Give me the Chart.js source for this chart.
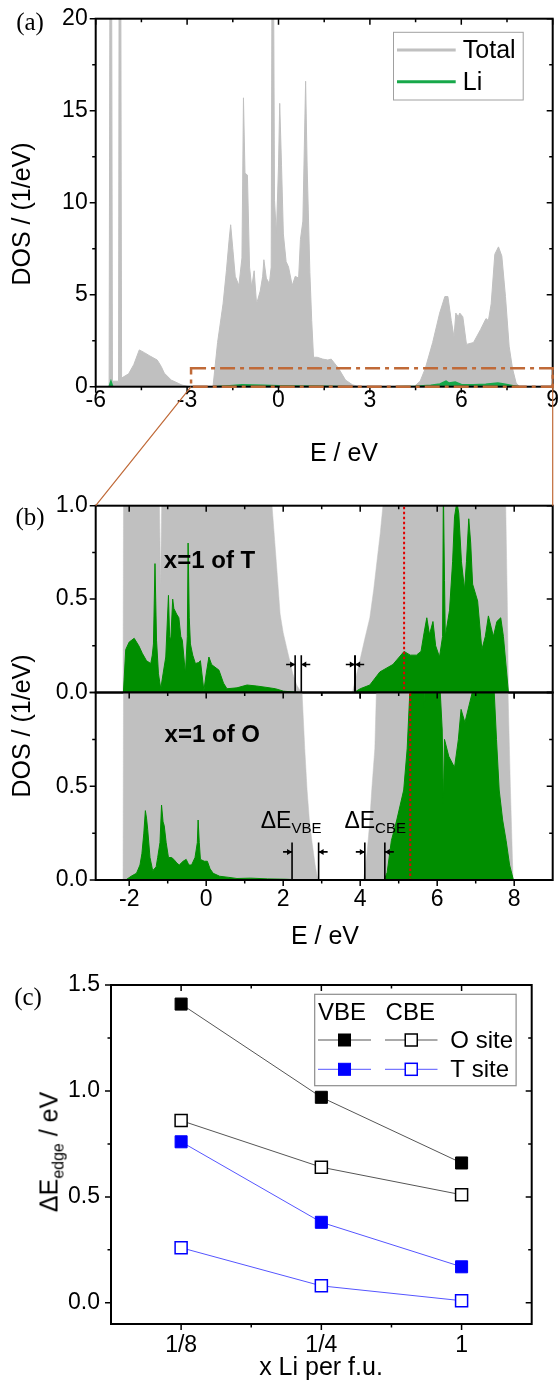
<!DOCTYPE html>
<html>
<head>
<meta charset="utf-8">
<title>Li DOS and band edge shifts</title>
<script src="https://cdn.jsdelivr.net/npm/chart.js@4.4.1/dist/chart.umd.min.js"></script>
<style>
  html, body { margin: 0; padding: 0; background: #fff; overflow: hidden; }
  body { position: relative; width: 558px; height: 1380px; font-family: "Liberation Sans", Arial, sans-serif; color: #000; }
  canvas { position: absolute; left: 0; }
  .txt { position: absolute; white-space: nowrap; line-height: 1; transform: translate(-50%, -50%); }
  .rot { transform: translate(-50%, -50%) rotate(-90deg); }
  .tag { font-family: "Liberation Serif", serif; font-size: 25px; }
  .title { font-size: 25px; }
  .sub { font-size: 16px; position: relative; top: 6px; }
</style>
</head>
<body>
<canvas id="chartA" width="558" height="470" style="top:0"></canvas>
<canvas id="chartB1" width="558" height="225" style="top:480px"></canvas>
<canvas id="chartB2" width="558" height="280" style="top:680px"></canvas>
<canvas id="chartC" width="558" height="420" style="top:960px"></canvas>
<canvas id="zoomLines" width="558" height="1380" style="top:0;pointer-events:none"></canvas>

<div class="txt tag" style="left:30px;top:21px">(a)</div>
<div class="txt tag" style="left:30px;top:516px">(b)</div>
<div class="txt tag" style="left:28px;top:996px">(c)</div>
<div class="txt title rot" style="left:21px;top:214px">DOS / (1/eV)</div>
<div class="txt title" style="left:344px;top:452px">E / eV</div>
<div class="txt title rot" style="left:21px;top:726px">DOS / (1/eV)</div>
<div class="txt title" style="left:325px;top:935px">E / eV</div>
<div class="txt title rot" style="left:49px;top:1152px">ΔE<span class="sub">edge</span> / eV</div>
<div class="txt title" style="left:321px;top:1366px">x Li per f.u.</div>

<script>
// ---------- data ----------
// (a) total DOS and Li projected DOS
const eTotA = [-6.0, -5.56, -5.53, -5.48, -5.45, -5.25, -5.23, -5.18, -5.15, -4.92,
  -4.75, -4.57, -4.40, -4.22, -3.98, -3.85, -3.75, -3.52, -3.17, -2.93,
  -2.15, -2.10, -2.00, -1.82, -1.71, -1.62, -1.57, -1.50, -1.42, -1.30,
  -1.20, -1.15, -1.10, -1.02, -0.95, -0.88, -0.80, -0.72, -0.60, -0.52,
  -0.48, -0.40, -0.30, -0.24, -0.21, -0.17, -0.13, -0.07, 0.00, 0.04,
  0.10, 0.16, 0.25, 0.33, 0.45, 0.55, 0.66, 0.72, 0.80, 0.89,
  0.94, 1.03, 1.09, 1.15, 1.27, 1.45, 1.62, 1.73, 1.97, 2.20,
  2.43, 2.67, 4.45, 4.65, 4.82, 5.06, 5.29, 5.46, 5.56, 5.67,
  5.76, 5.82, 5.90, 5.95, 6.05, 6.17, 6.40, 6.63, 6.81, 6.89,
  6.98, 7.10, 7.22, 7.33, 7.45, 7.57, 7.68, 7.80, 7.92, 9.0];
const dosTotA = [0, 0, 25, 25, 0.3, 0.3, 25, 25, 0.47, 0.7,
  1.2, 2.0, 1.85, 1.67, 1.45, 1.1, 0.74, 0.36, 0.09, 0,
  0, 0.8, 2.4, 4.5, 6.3, 8.0, 8.8, 7.5, 6.0, 5.5,
  7.0, 15.7, 11.6, 11.5, 6.5, 5.4, 6.3, 4.5, 5.2, 6.0,
  6.9, 5.9, 5.6, 6.5, 25, 25, 10.1, 8.3, 12, 15.4,
  12, 8.3, 6.8, 6.5, 5.5, 6.0, 5.9, 8.0, 9.0, 16.6,
  12, 6.2, 3.6, 1.6, 1.6, 1.5, 1.45, 1.5, 1.0, 0.36,
  0.1, 0, 0, 0.3, 1.0, 2.4, 4.0, 4.9, 4.9, 3.6,
  2.7, 4.0, 3.8, 4.0, 3.8, 2.3, 2.4, 3.1, 3.7, 3.6,
  4.5, 7.2, 7.6, 7.1, 4.9, 2.2, 1.0, 0.2, 0, 0];
const eLiA = [-6, -5.56, -5.5, -5.44, -2.15, -1.6, -1.2, -0.5, 0, 0.5,
  1.5, 2.5, 3.8, 4.5, 5.0, 5.3, 5.5, 5.6, 5.8, 6.0,
  6.4, 6.8, 7.2, 7.4, 7.7, 7.9, 9];
const dosLiA = [0, 0, 0.3, 0, 0, 0.05, 0.1, 0.08, 0.05, 0.04,
  0.02, 0, 0, 0.02, 0.08, 0.15, 0.3, 0.2, 0.25, 0.12,
  0.1, 0.14, 0.2, 0.15, 0.05, 0, 0];

// (b) x=1, Li on T site
const eTotT = [-2.87, -2.16, -2.13, -1.8, -1.4, -1.26, -1.22, -1.185, -1.15, -1.1,
  -0.5, 0.5, 1.2, 1.5, 1.71, 1.82, 1.92, 2.0, 2.09, 2.25,
  2.35, 2.44, 2.52, 3.80, 3.85, 3.92, 3.99, 4.1, 4.25, 4.35,
  4.44, 4.52, 4.59, 4.75, 5.5, 7.3, 7.7, 7.78, 7.82, 7.85, 9];
const dosTotT = [0, 0, 2.5, 5, 4, 2, 1.1, 0.58, 1.1, 2,
  6, 6, 3, 1.6, 1.0, 0.7, 0.42, 0.32, 0.24, 0.1,
  0.04, 0.01, 0, 0, 0.05, 0.11, 0.17, 0.27, 0.40, 0.55,
  0.71, 0.85, 1.0, 1.6, 4, 4, 1.6, 1.0, 0.5, 0, 0];
const eLiT = [-2.87, -2.15, -2.09, -2.0, -1.87, -1.75, -1.66, -1.55, -1.44, -1.40,
  -1.37, -1.33, -1.29, -1.24, -1.18, -1.12, -1.05, -0.98, -0.95, -0.92,
  -0.87, -0.84, -0.77, -0.71, -0.66, -0.62, -0.54, -0.49, -0.47, -0.44,
  -0.41, -0.35, -0.28, -0.2, -0.15, -0.06, 0.0, 0.07, 0.14, 0.20,
  0.33, 0.45, 0.54, 0.8, 1.06, 1.3, 1.58, 1.8, 2.01, 2.44,
  3.84, 4.0, 4.25, 4.51, 4.85, 5.14, 5.3, 5.46, 5.58, 5.66,
  5.73, 5.80, 5.89, 5.96, 6.06, 6.14, 6.16, 6.19, 6.21, 6.32,
  6.40, 6.45, 6.51, 6.56, 6.63, 6.71, 6.76, 6.82, 6.87, 6.92,
  7.05, 7.16, 7.25, 7.33, 7.40, 7.46, 7.55, 7.65, 7.72, 7.85, 9];
const dosLiT = [0, 0, 0.23, 0.27, 0.29, 0.25, 0.21, 0.17, 0.155, 0.2,
  0.26, 0.69, 0.28, 0.1, 0.02, 0.1, 0.19, 0.52, 0.3, 0.28,
  0.5, 0.45, 0.42, 0.40, 0.3, 0.28, 0.10, 0.3, 0.80, 0.4,
  0.26, 0.2, 0.155, 0.16, 0.17, 0.01, 0.1, 0.19, 0.15, 0.14,
  0.12, 0.05, 0.02, 0.025, 0.04, 0.035, 0.027, 0.02, 0.007, 0,
  0, 0.02, 0.04, 0.11, 0.15, 0.22, 0.2, 0.2, 0.22, 0.32,
  0.40, 0.31, 0.38, 0.25, 0.19, 0.3, 1.1, 0.6, 0.30, 0.44,
  0.7, 0.94, 1.02, 0.96, 0.7, 0.55, 0.7, 0.93, 0.8, 0.58,
  0.49, 0.23, 0.3, 0.41, 0.35, 0.30, 0.38, 0.40, 0.3, 0, 0];

// (b) x=1, Li on O site
const eTotO = [-2.87, -2.16, -2.13, -1.8, -1.0, 0.5, 1.5, 2.2, 2.38, 2.49,
  2.56, 2.62, 2.68, 2.75, 2.83, 2.9, 4.09, 4.18, 4.24, 4.30,
  4.38, 4.42, 4.6, 5.5, 7.3, 7.7, 7.84, 7.9, 7.97, 9];
const dosTotO = [0, 0, 2.5, 5, 6, 6, 3, 1.8, 1.3, 1.0,
  0.7, 0.48, 0.32, 0.2, 0.08, 0, 0, 0.15, 0.29, 0.48,
  0.7, 1.0, 2, 4, 4, 2, 1.0, 0.5, 0, 0];
const eLiO = [-2.87, -2.09, -1.95, -1.81, -1.72, -1.67, -1.62, -1.58, -1.55, -1.52,
  -1.46, -1.39, -1.3, -1.26, -1.2, -1.16, -1.12, -1.09, -1.04, -0.98,
  -0.9, -0.84, -0.76, -0.70, -0.6, -0.52, -0.45, -0.38, -0.29, -0.23,
  -0.21, -0.18, -0.15, -0.05, 0.03, 0.1, 0.18, 0.35, 0.59, 0.8,
  1.15, 1.6, 2.07, 2.53, 4.62, 4.70, 4.81, 4.95, 5.13, 5.22,
  5.3, 5.5, 5.64, 5.67, 5.70, 5.85, 6.02, 6.08, 6.13, 6.16,
  6.19, 6.3, 6.45, 6.55, 6.62, 6.72, 6.85, 6.97, 7.2, 7.47,
  7.54, 7.61, 7.70, 7.79, 7.88, 7.98, 9];
const dosLiO = [0, 0, 0.02, 0.036, 0.08, 0.14, 0.25, 0.37, 0.33, 0.27,
  0.12, 0.05, 0.07, 0.12, 0.2, 0.40, 0.31, 0.29, 0.2, 0.12,
  0.12, 0.11, 0.09, 0.08, 0.1, 0.11, 0.08, 0.08, 0.12, 0.2,
  0.32, 0.2, 0.11, 0.1, 0.10, 0.06, 0.036, 0.02, 0.014, 0.008,
  0.01, 0.006, 0.004, 0, 0, 0.04, 0.21, 0.32, 0.48, 0.7,
  1.05, 1.3, 1.2, 0.92, 1.2, 1.3, 1.2, 1.0, 0.8, 0.41,
  0.75, 0.66, 0.6, 0.75, 0.91, 0.84, 0.95, 1.05, 1.3, 1.05,
  0.75, 0.48, 0.32, 0.21, 0.08, 0, 0];

// band edges marked in (b), eV
const vbeT = [2.31, 2.47], cbeT = [3.86, 3.87], redLineT = 5.14;
const vbeO = [2.23, 2.92], cbeO = [4.12, 4.64], redLineO = 5.30;

// (c) edge shifts
const liContent = ['1/8', '1/4', '1'];
const vbeOsite = [1.41, 0.97, 0.66];
const cbeOsite = [0.86, 0.64, 0.51];
const vbeTsite = [0.76, 0.38, 0.17];
const cbeTsite = [0.26, 0.08, 0.01];

// ticks
const ticksAx = [-6, -3, 0, 3, 6, 9], minorAx = [-4.5, -1.5, 1.5, 4.5, 7.5];
const ticksAy = [0, 5, 10, 15, 20], minorAy = [2.5, 7.5, 12.5, 17.5];
const ticksBx = [-2, 0, 2, 4, 6, 8], minorBx = [-1, 1, 3, 5, 7];
const ticksBy = [0, 0.5, 1], minorBy = [0.25, 0.75];
const ticksCx = [0, 1, 2], minorCx = [0.5, 1.5];
const ticksCy = [0, 0.5, 1, 1.5], minorCy = [0.25, 0.75, 1.25];

// zoomed window of (a) shown in (b)
const zoomE = [-2.87, 9], zoomDos = [0, 1];

// ---------- styles ----------
const GREY = '#c0c0c0';
const GREEN_A = '#17a84a';
const GREEN_B = '#008e00';
const ORANGE = '#c06a38';
const tickFont = { family: 'Liberation Sans', size: 23 };

const pts = (xs, ys) => xs.map((x, i) => ({ x, y: ys[i] }));

function axis(min, max, ticks, o) {
  return {
    type: 'linear', min, max,
    afterBuildTicks: s => { s.ticks = ticks.map(v => ({ value: v })); },
    afterFit: s => {
      if (o.height !== undefined) { s.height = o.height; s.paddingLeft = 0; s.paddingRight = 0; }
      if (o.width !== undefined) { s.width = o.width; s.paddingTop = 0; s.paddingBottom = 0; }
    },
    grid: { display: false, drawTicks: false },
    border: { display: false },
    ticks: {
      display: o.labels !== false, padding: o.pad || 0, font: tickFont, color: '#000',
      autoSkip: false, maxRotation: 0, callback: o.fmt || (v => String(v))
    }
  };
}

// box with outward ticks on bottom/left, inward on top/right
const framePlugin = {
  id: 'frame',
  afterDraw(chart, args, o) {
    const { ctx, chartArea: a } = chart;
    const sx = chart.scales.x, sy = chart.scales.y;
    ctx.save();
    ctx.strokeStyle = '#000';
    ctx.lineWidth = 2;
    ctx.strokeRect(a.left, a.top, a.right - a.left, a.bottom - a.top);
    ctx.lineWidth = 1.5;
    ctx.beginPath();
    const xt = o.xMajor.map(v => [v, 6]).concat(o.xMinor.map(v => [v, 3.5]));
    xt.forEach(([v, len]) => {
      const p = sx.getPixelForValue(v);
      ctx.moveTo(p, a.bottom); ctx.lineTo(p, a.bottom + len);
      ctx.moveTo(p, a.top); ctx.lineTo(p, a.top + len);
    });
    const yt = o.yMajor.map(v => [v, 6]).concat(o.yMinor.map(v => [v, 3.5]));
    yt.forEach(([v, len]) => {
      const p = sy.getPixelForValue(v);
      ctx.moveTo(a.left, p); ctx.lineTo(a.left - len, p);
      ctx.moveTo(a.right, p); ctx.lineTo(a.right - len, p);
    });
    ctx.stroke();
    ctx.restore();
  }
};

const zoomRectPlugin = {
  id: 'zoomRect',
  afterDraw(chart) {
    const { ctx } = chart;
    const sx = chart.scales.x, sy = chart.scales.y;
    const x0 = sx.getPixelForValue(zoomE[0]), x1 = sx.getPixelForValue(zoomE[1]);
    const y0 = sy.getPixelForValue(zoomDos[0]), y1 = sy.getPixelForValue(zoomDos[1]);
    ctx.save();
    ctx.strokeStyle = ORANGE;
    ctx.lineWidth = 2.5;
    ctx.setLineDash([15, 5, 4, 5]);
    ctx.strokeRect(x0, y1, x1 - x0, y0 - y1);
    ctx.restore();
  }
};

const legendAPlugin = {
  id: 'legendA',
  afterDraw(chart) {
    const { ctx, chartArea: a } = chart;
    const ds = chart.data.datasets;
    const left = a.right - 159.2, top = a.top + 13.6;
    ctx.save();
    ctx.fillStyle = '#fff';
    ctx.fillRect(left, top, 129.7, 67.7);
    ctx.strokeStyle = '#a0a0a0'; ctx.lineWidth = 1;
    ctx.strokeRect(left, top, 129.7, 67.7);
    ctx.font = "25px 'Liberation Sans'";
    ctx.textBaseline = 'middle';
    [[0, 17.7], [1, 49.4]].forEach(([i, dy]) => {
      ctx.strokeStyle = ds[i].borderColor; ctx.lineWidth = 3;
      ctx.beginPath(); ctx.moveTo(left + 3.5, top + dy); ctx.lineTo(left + 62.2, top + dy); ctx.stroke();
      ctx.fillStyle = '#000';
      ctx.fillText(ds[i].label, left + 69.3, top + dy + 1);
    });
    ctx.restore();
  }
};

// edge markers, red dotted line and labels in (b)
const edgePlugin = {
  id: 'edges',
  afterDraw(chart, args, o) {
    const { ctx, chartArea: a } = chart;
    const sx = chart.scales.x, sy = chart.scales.y;
    ctx.save();
    const rx = sx.getPixelForValue(o.red);
    ctx.strokeStyle = '#e00000'; ctx.lineWidth = 2; ctx.setLineDash([2.5, 2.5]);
    ctx.beginPath(); ctx.moveTo(rx, a.top + 1); ctx.lineTo(rx, a.bottom - 1); ctx.stroke();
    ctx.setLineDash([]);
    ctx.strokeStyle = '#000'; ctx.fillStyle = '#000'; ctx.lineWidth = 1.6;
    const yTop = sy.getPixelForValue(0.2), yA = sy.getPixelForValue(0.15);
    [o.vbe, o.cbe].forEach(pair => {
      const p0 = sx.getPixelForValue(pair[0]), p1 = sx.getPixelForValue(pair[1]);
      ctx.beginPath();
      ctx.moveTo(p0, a.bottom); ctx.lineTo(p0, yTop);
      ctx.moveTo(p1, a.bottom); ctx.lineTo(p1, yTop);
      ctx.moveTo(p0 - 9, yA); ctx.lineTo(p0, yA);
      ctx.moveTo(p1, yA); ctx.lineTo(p1 + 9, yA);
      ctx.stroke();
      ctx.beginPath();
      ctx.moveTo(p0, yA); ctx.lineTo(p0 - 5, yA - 3); ctx.lineTo(p0 - 5, yA + 3); ctx.closePath();
      ctx.moveTo(p1, yA); ctx.lineTo(p1 + 5, yA - 3); ctx.lineTo(p1 + 5, yA + 3); ctx.closePath();
      ctx.fill();
    });
    ctx.textBaseline = 'alphabetic';
    ctx.font = "bold 24px 'Liberation Sans'";
    ctx.fillText(o.title, sx.getPixelForValue(o.titleAt[0]), sy.getPixelForValue(o.titleAt[1]));
    (o.deltas || []).forEach(d => {
      const x = sx.getPixelForValue(d.at[0]), y = sy.getPixelForValue(d.at[1]);
      ctx.font = "23px 'Liberation Sans'";
      ctx.fillText('ΔE', x, y);
      const w = ctx.measureText('ΔE').width;
      ctx.font = "15px 'Liberation Sans'";
      ctx.fillText(d.sub, x + w, y + 5);
    });
    ctx.restore();
  }
};

const legendCPlugin = {
  id: 'legendC',
  afterDraw(chart) {
    const { ctx, chartArea: a } = chart;
    const ds = chart.data.datasets;
    const left = a.right - 217, top = a.top + 9.3;
    ctx.save();
    ctx.fillStyle = '#fff';
    ctx.fillRect(left, top, 201.4, 91.4);
    ctx.strokeStyle = '#8c8c8c'; ctx.lineWidth = 1.2;
    ctx.strokeRect(left, top, 201.4, 91.4);
    ctx.fillStyle = '#000';
    ctx.font = "24px 'Liberation Sans'";
    ctx.textBaseline = 'alphabetic';
    ctx.fillText('VBE', left + 3.3, top + 25.7);
    ctx.fillText('CBE', left + 70.9, top + 25.7);
    [[0, 1, 'O site', 45.7], [2, 3, 'T site', 75]].forEach(([iv, ic, text, dy]) => {
      const y = top + dy;
      [[iv, 3.3, 56.3], [ic, 70.3, 122.8]].forEach(([i, x0, x1]) => {
        ctx.strokeStyle = ds[i].borderColor; ctx.lineWidth = 1;
        ctx.beginPath(); ctx.moveTo(left + x0, y); ctx.lineTo(left + x1, y); ctx.stroke();
        const cx = left + (x0 + x1) / 2, s = 6;
        ctx.fillStyle = ds[i].pointBackgroundColor; ctx.fillRect(cx - s, y - s, 2 * s, 2 * s);
        ctx.strokeStyle = ds[i].pointBorderColor; ctx.lineWidth = ds[i].pointBorderWidth;
        ctx.strokeRect(cx - s, y - s, 2 * s, 2 * s);
      });
      ctx.fillStyle = '#000';
      ctx.textBaseline = 'middle';
      ctx.fillText(text, left + 135.6, y + 1);
      ctx.textBaseline = 'alphabetic';
    });
    ctx.restore();
  }
};

const baseOptions = {
  responsive: false,
  animation: false,
  events: [],
  elements: { point: { radius: 0 }, line: { tension: 0 } }
};

function dosSet(label, xs, ys, color, order, width) {
  return { label, data: pts(xs, ys), order, fill: 'origin', backgroundColor: color,
    borderColor: color, borderWidth: width, pointRadius: 0, clip: 0 };
}

// ---------- (a) ----------
const chartA = new Chart(document.getElementById('chartA'), {
  type: 'line',
  data: { datasets: [
    dosSet('Total', eTotA, dosTotA, GREY, 2, 1),
    dosSet('Li', eLiA, dosLiA, GREEN_A, 1, 1.5)
  ] },
  options: {
    ...baseOptions,
    layout: { padding: { top: 18.7, right: 5.3, left: 0, bottom: 0 } },
    scales: {
      x: axis(-6, 9, ticksAx, { height: 83.3, pad: 0 }),
      y: axis(0, 20, ticksAy, { width: 95.7, pad: 8 })
    },
    plugins: {
      legend: { display: false }, tooltip: { enabled: false },
      frame: { xMajor: ticksAx, xMinor: minorAx, yMajor: ticksAy, yMinor: minorAy }
    }
  },
  plugins: [framePlugin, zoomRectPlugin, legendAPlugin]
});

// ---------- (b) ----------
const fmt1 = v => v.toFixed(1);
const chartB1 = new Chart(document.getElementById('chartB1'), {
  type: 'line',
  data: { datasets: [
    dosSet('Total', eTotT, dosTotT, GREY, 2, 0.5),
    dosSet('Li', eLiT, dosLiT, GREEN_B, 1, 1)
  ] },
  options: {
    ...baseOptions,
    layout: { padding: { top: 25.7, right: 5.3, left: 0, bottom: 0 } },
    scales: {
      x: axis(zoomE[0], zoomE[1], ticksBx, { height: 12.5, labels: false }),
      y: axis(0, 1, ticksBy, { width: 95.7, pad: 8, fmt: fmt1 })
    },
    plugins: {
      legend: { display: false }, tooltip: { enabled: false },
      frame: { xMajor: ticksBx, xMinor: minorBx, yMajor: ticksBy, yMinor: minorBy },
      edges: { red: redLineT, vbe: vbeT, cbe: cbeT, title: 'x=1 of T', titleAt: [-1.10, 0.666] }
    }
  },
  plugins: [framePlugin, edgePlugin]
});

const chartB2 = new Chart(document.getElementById('chartB2'), {
  type: 'line',
  data: { datasets: [
    dosSet('Total', eTotO, dosTotO, GREY, 2, 0.5),
    dosSet('Li', eLiO, dosLiO, GREEN_B, 1, 1)
  ] },
  options: {
    ...baseOptions,
    layout: { padding: { top: 12.5, right: 5.3, left: 0, bottom: 0 } },
    scales: {
      x: axis(zoomE[0], zoomE[1], ticksBx, { height: 80, pad: 5.4 }),
      y: axis(0, 1, ticksBy, { width: 95.7, pad: 8, fmt: v => (v < 1 ? v.toFixed(1) : '') })
    },
    plugins: {
      legend: { display: false }, tooltip: { enabled: false },
      frame: { xMajor: ticksBx, xMinor: minorBx, yMajor: ticksBy, yMinor: minorBy },
      edges: { red: redLineO, vbe: vbeO, cbe: cbeO, title: 'x=1 of O', titleAt: [-1.08, 0.738],
        deltas: [{ sub: 'VBE', at: [1.415, 0.28] }, { sub: 'CBE', at: [3.59, 0.28] }] }
    }
  },
  plugins: [framePlugin, edgePlugin]
});

// ---------- (c) ----------
const edgeSet = (label, ys, line, fillColor, edgeColor, bw) => ({
  label, data: liContent.map((c, i) => ({ x: i, y: ys[i] })),
  borderColor: line, borderWidth: 1, pointStyle: 'rect', pointRadius: 8.5,
  pointBackgroundColor: fillColor, pointBorderColor: edgeColor, pointBorderWidth: bw, clip: false
});
const chartC = new Chart(document.getElementById('chartC'), {
  type: 'line',
  data: { datasets: [
    edgeSet('VBE O site', vbeOsite, '#555555', '#000000', '#000000', 1),
    edgeSet('CBE O site', cbeOsite, '#555555', '#ffffff', '#000000', 1.5),
    edgeSet('VBE T site', vbeTsite, '#5555ff', '#0000ff', '#0000ff', 1),
    edgeSet('CBE T site', cbeTsite, '#5555ff', '#ffffff', '#0000ff', 1.5)
  ] },
  options: {
    ...baseOptions,
    elements: { line: { tension: 0 } },
    layout: { padding: { top: 25, right: 26.3, left: 0, bottom: 0 } },
    scales: {
      x: axis(-0.5, 2.5, ticksCx, { height: 56, pad: 7.8, fmt: v => liContent[v] || '' }),
      y: axis(-0.1, 1.5, ticksCy, { width: 111, pad: 11, fmt: fmt1 })
    },
    plugins: {
      legend: { display: false }, tooltip: { enabled: false },
      frame: { xMajor: ticksCx, xMinor: minorCx, yMajor: ticksCy, yMinor: minorCy }
    }
  },
  plugins: [framePlugin, legendCPlugin]
});

// ---------- lines linking the window in (a) to panel (b) ----------
(function () {
  const ctx = document.getElementById('zoomLines').getContext('2d');
  const offB = 480;
  const sx = chartA.scales.x, sy = chartA.scales.y, b = chartB1.chartArea;
  ctx.strokeStyle = ORANGE;
  ctx.lineWidth = 1.2;
  ctx.beginPath();
  ctx.moveTo(sx.getPixelForValue(zoomE[0]), sy.getPixelForValue(zoomDos[0]));
  ctx.lineTo(b.left, b.top + offB);
  ctx.moveTo(sx.getPixelForValue(zoomE[1]), sy.getPixelForValue(zoomDos[1]));
  ctx.lineTo(b.right, b.top + offB);
  ctx.stroke();
})();
</script>
</body>
</html>
